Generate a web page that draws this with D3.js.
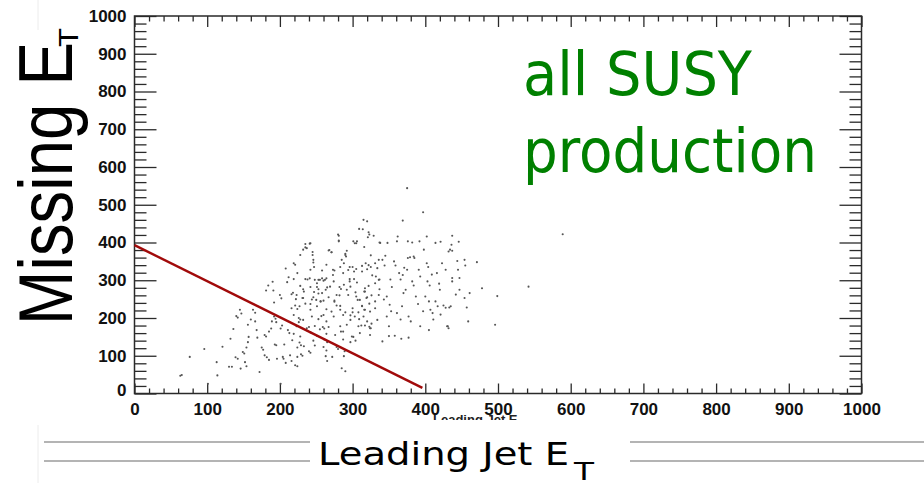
<!DOCTYPE html>
<html>
<head>
<meta charset="utf-8">
<script src="https://cdn.jsdelivr.net/npm/d3@7/dist/d3.min.js"></script>
<style>
  html, body { margin: 0; padding: 0; background: #fff; }
  svg { display: block; }
</style>
</head>
<body>
<svg id="chart" width="924" height="483"></svg>
<script>
// ---- data ----
const xTickValues = [0, 100, 200, 300, 400, 500, 600, 700, 800, 900, 1000];
const yTickValues = [0, 100, 200, 300, 400, 500, 600, 700, 800, 900, 1000];
const xTitle = "Leading Jet E";
const yTitle = "Missing E";
const annotationLines = ["all SUSY", "production"];

// Leading jet E_T (GeV) of each event
const leadingJetEt = [
  63,65,76,96,114,113,121,130,134,132,136,140,142,139,142,145,147,146,152,154,149,151,154,156,156,160,157,163,166,166,168,169,172,175,177,179,179,181,181,184,182,185,185,188,189,190,192,192,194,195,191,193,195,196,200,202,201,203,204,205,208,206,208,210,212,211,213,214,216,216,218,219,221,
  224,221,224,226,228,227,229,229,231,232,233,238,238,240,240,242,235,241,242,244,245,246,246,248,251,253,253,256,257,259,261,261,263,265,263,265,268,271,273,275,275,278,278,280,280,281,282,284,285,288,284,287,290,292,294,296,297,300,301,304,303,306,302,305,304,307,309,312,313,316,317,319,321,323,318,322,323,325,326,327,315,309,
  338,337,341,344,343,347,345,348,347,350,352,354,351,353,357,359,358,361,362,364,366,369,361,366,369,370,373,368,371,375,376,379,384,385,376,382,377,380,382,384,387,390,392,391,393,393,397,397,398,402,402,404,403,406,400,405,407,410,411,409,414,421,416,419,414,417,420,423,428,425,428,430,434,375,
  437,446,436,437,432,444,454,455,445,437,437,447,442,447,461,454,471,478,457,499,459,496,542,589,435,433,431,432,421,405,341,367,377,350,
  217,224,233,224,260,265,264,272,290,297,289,101,201,
  235,242,232,237,228,245,246,267,271,281,281,290,291,285,288,301,305,314,316,320,322,329,325,336,337,
  221,224,242,247,258,264,273,283,287,296,300,302,313,313,320,325,331,334,332,
  219,235,241,248,251,255,258,260,262,264,274,288,296,297,306,317,316,322,331,336,337,228,232,242,247,253,258,269,282,292,
  223,222,231,235,246,250,256,260,267,275,278,283,294,305,310,313,320,323,331,336,216,227,242,251,264,271,283,290,300,308,317,324,331,
  219,226,232,244,253,260,264,274,287,297,303,315,320,326,334,223,237,248,255,267,283,292,308,317,324,219,228,242,251,264,276,287,299,310,324
];
// Missing E_T (GeV) of each event, same order
const missingEt = [
  47,49,97,118,48,83,124,71,71,145,171,205,201,96,92,222,212,66,83,72,110,106,122,136,182,196,150,222,214,191,168,148,57,122,116,101,155,151,273,286,96,89,164,172,191,296,241,204,198,189,273,130,128,92,261,252,172,180,97,92,81,130,331,295,308,168,160,101,86,263,267,345,75,
  72,233,224,189,196,135,128,104,100,253,270,302,166,176,112,108,387,397,237,249,375,354,140,127,282,301,265,244,205,176,172,143,99,86,275,281,380,374,314,326,243,233,123,118,421,405,260,277,67,99,164,143,367,378,327,303,207,215,150,140,398,403,303,330,268,248,197,180,232,222,270,253,414,421,345,340,177,173,260,313,460,436,
  399,302,354,339,249,257,365,399,204,178,302,282,235,218,350,339,153,403,416,319,302,314,213,196,458,266,275,231,333,328,359,361,363,359,403,400,204,191,297,286,257,237,403,328,310,178,218,480,381,416,345,335,297,286,257,244,222,213,196,315,399,402,319,291,244,231,275,345,328,233,227,178,381,544,
  418,402,394,378,376,351,354,339,328,306,297,306,262,275,266,253,348,279,228,258,191,182,283,422,231,228,178,173,209,168,138,145,148,152,
  141,122,125,97,123,136,114,97,59,136,112,26,26,
  396,398,381,385,367,367,347,379,374,418,403,370,363,354,345,403,398,435,388,456,427,418,366,354,400,
  341,319,328,335,326,341,328,335,319,335,335,323,338,323,329,335,345,332,310,
  303,303,305,301,292,301,305,299,301,305,297,288,297,283,294,279,270,285,292,301,276,285,276,282,269,276,266,283,282,275,
  261,250,253,238,255,248,244,246,255,246,261,232,261,257,248,231,255,238,244,261,226,231,222,231,223,217,222,215,226,215,222,217,226,
  208,200,195,204,197,208,191,204,208,195,204,204,191,185,195,178,173,179,170,176,178,182,178,180,173,158,151,162,153,158,155,164,151,160,155
];

// straight selection cut drawn across the plot (two end points)
const cutLineX = [0, 396];
const cutLineY = [393, 15];

// ---- drawing ----
const svg = d3.select("#chart");
const x = d3.scaleLinear().domain([0, 1000]).range([134.5, 861.5]);
const y = d3.scaleLinear().domain([0, 1000]).range([393.5, 16]);
const pLeft = x(0), pRight = x(1000), pTop = y(1000), pBottom = y(0);
const minorX = d3.range(0, 1001, 20).filter(v => v % 100 !== 0);
const minorY = d3.range(0, 1001, 20).filter(v => v % 100 !== 0);
const axisColor = "#2a2a2a";

function styleAxis(g) {
  g.select(".domain").remove();
  g.selectAll(".tick line").attr("stroke", axisColor).attr("stroke-width", 1.3);
  g.selectAll(".tick text")
    .attr("fill", "#111")
    .style("font-family", "'Liberation Sans', Arial, sans-serif")
    .style("font-weight", "bold")
    .style("font-size", "17px");
}

// bottom axis
svg.append("g").attr("transform", `translate(0,${pBottom})`)
  .call(d3.axisBottom(x).tickValues(xTickValues).tickSize(-10).tickPadding(9).tickFormat(d3.format("d")))
  .call(styleAxis);
svg.append("g").attr("transform", `translate(0,${pBottom})`)
  .call(d3.axisBottom(x).tickValues(minorX).tickSize(-5).tickFormat(""))
  .call(styleAxis);
// top axis
svg.append("g").attr("transform", `translate(0,${pTop})`)
  .call(d3.axisTop(x).tickValues(xTickValues).tickSize(-11).tickFormat(""))
  .call(styleAxis);
svg.append("g").attr("transform", `translate(0,${pTop})`)
  .call(d3.axisTop(x).tickValues(minorX).tickSize(-5.5).tickFormat(""))
  .call(styleAxis);
// left axis
const leftAxisG = svg.append("g").attr("transform", `translate(${pLeft},0)`)
  .call(d3.axisLeft(y).tickValues(yTickValues).tickSize(-22).tickPadding(8).tickFormat(d3.format("d")))
  .call(styleAxis);
leftAxisG.selectAll(".tick text").filter(d => d === 0).attr("dy", "0.1em");
svg.append("g").attr("transform", `translate(${pLeft},0)`)
  .call(d3.axisLeft(y).tickValues(minorY).tickSize(-12).tickFormat(""))
  .call(styleAxis);
// right axis
svg.append("g").attr("transform", `translate(${pRight},0)`)
  .call(d3.axisRight(y).tickValues(yTickValues).tickSize(-22).tickFormat(""))
  .call(styleAxis);
svg.append("g").attr("transform", `translate(${pRight},0)`)
  .call(d3.axisRight(y).tickValues(minorY).tickSize(-12).tickFormat(""))
  .call(styleAxis);

// frame
svg.append("rect")
  .attr("x", pLeft).attr("y", pTop)
  .attr("width", pRight - pLeft).attr("height", pBottom - pTop)
  .attr("fill", "none").attr("stroke", axisColor).attr("stroke-width", 1.5);

// scatter points
const pts = leadingJetEt.map((v, i) => [v, missingEt[i]]);
svg.append("g").selectAll("circle").data(pts).join("circle")
  .attr("cx", d => x(d[0])).attr("cy", d => y(d[1]))
  .attr("r", 1.05).attr("fill", "#555");

// cut line
svg.append("line")
  .attr("x1", x(cutLineX[0])).attr("y1", y(cutLineY[0]))
  .attr("x2", x(cutLineX[1])).attr("y2", y(cutLineY[1]))
  .attr("stroke", "#a10a0a").attr("stroke-width", 2.4);

// small original axis title, partly hidden below
svg.append("clipPath").attr("id", "smallClip")
  .append("rect").attr("x", 0).attr("y", 414).attr("width", 924).attr("height", 6);
const small = svg.append("text").attr("clip-path", "url(#smallClip)")
  .attr("x", 433).attr("y", 424)
  .style("font-family", "'Liberation Sans', Arial, sans-serif")
  .style("font-weight", "bold").style("font-size", "13px").attr("fill", "#222");
small.append("tspan").text(xTitle);
small.append("tspan").attr("dy", 3).style("font-size", "9px").text("T");

// green annotation
annotationLines.forEach((t, i) => {
  svg.append("text")
    .attr("x", 523).attr("y", 95 + i * 77)
    .attr("textLength", i === 0 ? 229 : 294)
    .attr("lengthAdjust", "spacingAndGlyphs")
    .style("font-family", "'DejaVu Sans', sans-serif")
    .style("font-size", "61px")
    .attr("fill", "#008000")
    .text(t);
});

// y title (rotated)
const yt = svg.append("g").attr("transform", "translate(72,325) rotate(-90)");
yt.append("text").attr("x", 0).attr("y", 0)
  .attr("textLength", 283).attr("lengthAdjust", "spacingAndGlyphs")
  .style("font-family", "'Liberation Sans', Arial, sans-serif")
  .style("font-size", "76px").attr("fill", "#000")
  .text(yTitle);
yt.append("text").attr("x", 278).attr("y", 6)
  .attr("textLength", 19).attr("lengthAdjust", "spacingAndGlyphs")
  .style("font-family", "'Liberation Sans', Arial, sans-serif")
  .style("font-size", "28px").attr("fill", "#000")
  .text("T");

// slide decoration lines and big x title
const deco = [[44, 310], [630, 924]];
[442, 461].forEach(yy => {
  deco.forEach(([a, b]) => {
    svg.append("line").attr("x1", a).attr("x2", b).attr("y1", yy).attr("y2", yy)
      .attr("stroke", "#b4b4b4").attr("stroke-width", 2);
  });
});
svg.append("line").attr("x1", 38).attr("x2", 38).attr("y1", 425).attr("y2", 483)
  .attr("stroke", "#ececec").attr("stroke-width", 1);
svg.append("line").attr("x1", 38).attr("x2", 38).attr("y1", 0).attr("y2", 30)
  .attr("stroke", "#ececec").attr("stroke-width", 1);

svg.append("text").attr("x", 318).attr("y", 465)
  .attr("textLength", 251).attr("lengthAdjust", "spacingAndGlyphs")
  .style("font-family", "'DejaVu Sans', sans-serif")
  .style("font-size", "32px").attr("fill", "#000")
  .text(xTitle);
svg.append("text").attr("x", 574).attr("y", 479.5)
  .attr("textLength", 20).attr("lengthAdjust", "spacingAndGlyphs")
  .style("font-family", "'DejaVu Sans', sans-serif")
  .style("font-size", "24px").attr("fill", "#000")
  .text("T");
</script>
</body>
</html>
